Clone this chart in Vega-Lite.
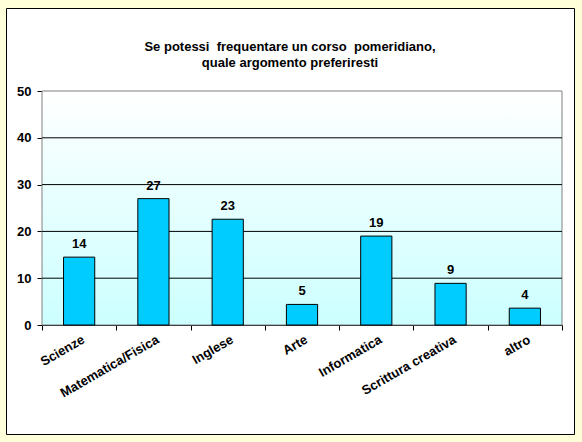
{
  "$schema": "https://vega.github.io/schema/vega-lite/v6.json",
  "width": 568,
  "height": 426,
  "autosize": "none",
  "padding": {"left": 6, "top": 8, "right": 8, "bottom": 8},
  "background": "#FFFFD9",
  "title": {
    "text": ["Se potessi\u00a0 frequentare un corso\u00a0 pomeridiano,", "quale argomento preferiresti"],
    "font": "Liberation Sans",
    "fontSize": 13,
    "fontWeight": "bold",
    "color": "black",
    "anchor": "middle",
    "frame": "group",
    "baseline": "top",
    "lineHeight": 16,
    "offset": -62
  },
  "data": {
    "values": [
      {"materia": "Scienze", "valore": 14.5, "etichetta": "14"},
      {"materia": "Matematica/Fisica", "valore": 27, "etichetta": "27"},
      {"materia": "Inglese", "valore": 22.6, "etichetta": "23"},
      {"materia": "Arte", "valore": 4.4, "etichetta": "5"},
      {"materia": "Informatica", "valore": 19, "etichetta": "19"},
      {"materia": "Scrittura creativa", "valore": 8.9, "etichetta": "9"},
      {"materia": "altro", "valore": 3.6, "etichetta": "4"}
    ]
  },
  "layer": [
    {
      "data": {"values": [{}]},
      "mark": {
        "type": "rect",
        "stroke": "#808080",
        "strokeWidth": 1,
        "fill": {
          "gradient": "linear",
          "x1": 0, "y1": 0, "x2": 0, "y2": 1,
          "stops": [
            {"offset": 0, "color": "#FFFFFF"},
            {"offset": 1, "color": "#CCFFFF"}
          ]
        }
      },
      "encoding": {
        "x": {"datum": "Scienze", "type": "nominal", "bandPosition": 0, "title": null},
        "x2": {"datum": "altro", "bandPosition": 1},
        "y": {"datum": 0, "type": "quantitative", "title": null, "axis": {"values": [0, 10, 20, 30, 40, 50]}},
        "y2": {"datum": 50}
      }
    },
    {
      "data": {"values": [{"g": 10}, {"g": 20}, {"g": 30}, {"g": 40}]},
      "mark": {"type": "rule", "color": "black", "strokeWidth": 1},
      "encoding": {
        "x": {"datum": "Scienze", "type": "nominal", "bandPosition": 0, "title": null},
        "x2": {"datum": "altro", "bandPosition": 1},
        "y": {"field": "g", "type": "quantitative", "title": null, "axis": {"values": [0, 10, 20, 30, 40, 50]}}
      }
    },
    {
      "mark": {"type": "bar", "width": {"band": 0.42}, "fill": "#00CCFF", "stroke": "black", "strokeWidth": 1},
      "encoding": {
        "x": {
          "field": "materia",
          "type": "nominal",
          "sort": null,
          "title": null,
          "scale": {
            "domain": ["Scienze", "Matematica/Fisica", "Inglese", "Arte", "Informatica", "Scrittura creativa", "altro"],
            "range": [36, 556],
            "paddingInner": 0,
            "paddingOuter": 0
          }
        },
        "y": {
          "field": "valore",
          "type": "quantitative",
          "title": null,
          "scale": {"domain": [0, 50], "range": [317, 83], "nice": false, "zero": true},
          "axis": {"values": [0, 10, 20, 30, 40, 50]}
        }
      }
    },
    {
      "mark": {"type": "text", "baseline": "bottom", "dy": -6, "font": "Liberation Sans", "fontSize": 13, "fontWeight": "bold", "color": "black"},
      "encoding": {
        "x": {"field": "materia", "type": "nominal", "sort": null, "title": null},
        "y": {"field": "valore", "type": "quantitative", "title": null, "axis": {"values": [0, 10, 20, 30, 40, 50]}},
        "text": {"field": "etichetta"}
      }
    }
  ],
  "config": {
    "view": {"fill": "white", "stroke": "black", "strokeWidth": 1},
    "axis": {
      "zindex": 1,
      "grid": false,
      "domainColor": "black",
      "tickColor": "black",
      "tickSize": 5,
      "labelFont": "Liberation Sans",
      "labelFontSize": 13,
      "labelFontWeight": "bold",
      "labelColor": "black",
      "labelOverlap": false
    },
    "axisX": {
      "offset": -109,
      "tickBand": "extent",
      "labelAngle": -30,
      "labelAlign": "right",
      "labelBaseline": "top",
      "labelPadding": 3,
      "labelOffset": 1
    },
    "axisY": {
      "offset": -36,
      "labelPadding": 6
    }
  }
}
